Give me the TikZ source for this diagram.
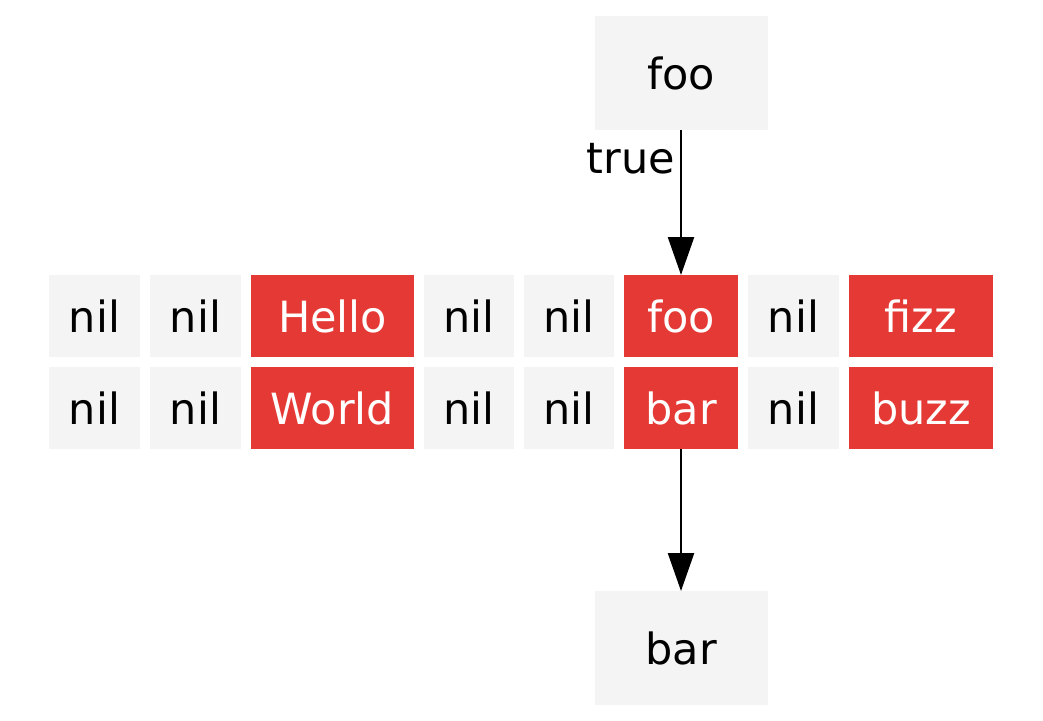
\documentclass[tikz,border=0pt]{standalone}
\usepackage{fontspec}
\setmainfont{DejaVu Sans}
\usepackage{tikz}
\usetikzlibrary{arrows.meta,positioning}
\definecolor{rouge}{RGB}{229,57,53}
\definecolor{grisclair}{RGB}{244,244,244}

\begin{document}
\begin{tikzpicture}[x=0.5pt,y=-0.5pt,font=\fontsize{21.5}{26}\selectfont,
		case/.style={fill=grisclair,minimum height=41pt,inner sep=0pt,outer sep=0pt},
		pleine/.style={case,fill=rouge,text=white},
		boite/.style={fill=grisclair,minimum width=86.5pt,minimum height=57pt,inner sep=0pt,outer sep=0pt},
		fleche/.style={-{Triangle[length=19pt,width=13pt]},line width=1.2pt}]
					\useasboundingbox (0,0) rectangle (1043,720);
					% ligne du haut
					\node[case,minimum width=45.5pt] (h1) at (94.5,316) {nil};
					\node[case,minimum width=45.5pt,right=5pt of h1] (h2) {nil};
					\node[pleine,minimum width=81.5pt,right=5pt of h2] (h3) {Hello};
					\node[case,minimum width=45pt,right=5pt of h3] (h4) {nil};
					\node[case,minimum width=45pt,right=5pt of h4] (h5) {nil};
					\node[pleine,minimum width=57pt,right=5pt of h5] (h6) {foo};
					\node[case,minimum width=45.5pt,right=5pt of h6] (h7) {nil};
					\node[pleine,minimum width=72pt,right=5pt of h7] (h8) {fizz};
					
					% ligne du bas
					\node[case,minimum width=45.5pt,below=5pt of h1] (b1) {nil};
					\node[case,minimum width=45.5pt,below=5pt of h2] (b2) {nil};
					\node[pleine,minimum width=81.5pt,below=5pt of h3] (b3) {World};
					\node[case,minimum width=45pt,below=5pt of h4] (b4) {nil};
					\node[case,minimum width=45pt,below=5pt of h5] (b5) {nil};
					\node[pleine,minimum width=57pt,below=5pt of h6] (b6) {bar};
					\node[case,minimum width=45.5pt,below=5pt of h7] (b7) {nil};
					\node[pleine,minimum width=72pt,below=5pt of h8] (b8) {buzz};
					
					% cles
					\node[boite,above=72.5pt of h6] (foo) {foo};
					\node[boite,below=71pt of b6] (bar) {bar};
					\draw[fleche] (foo) -- node[left,pos=0.2,inner sep=2.5pt]{true} (h6);
					\draw[fleche] (b6) -- (bar);
				\end{tikzpicture}
\end{document}
